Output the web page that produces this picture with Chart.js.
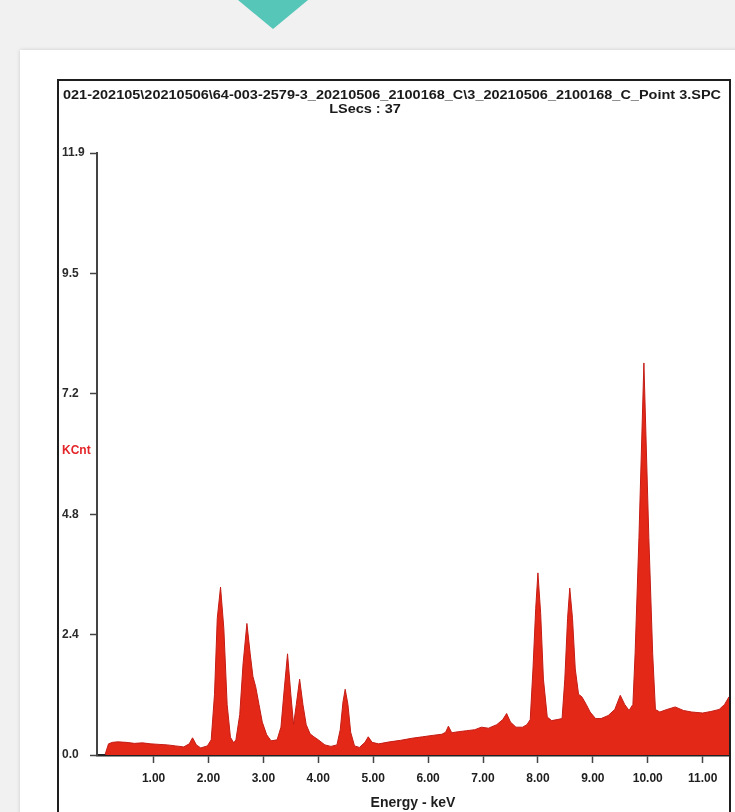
<!DOCTYPE html>
<html>
<head>
<meta charset="utf-8">
<script src="https://cdn.jsdelivr.net/npm/chart.js@4"></script>
<style>
  html, body { margin: 0; padding: 0; width: 735px; height: 812px; overflow: hidden; background: #f1f1f1; }
  #tri { position: absolute; left: 238px; top: 0; width: 0; height: 0;
         border-left: 35px solid transparent; border-right: 35px solid transparent;
         border-top: 29px solid #55c6b8; }
  #card { position: absolute; left: 20px; top: 50px; width: 730px; height: 800px; background: #fff;
          box-shadow: 0 0 4px rgba(0,0,0,0.15); }
  #frame { position: absolute; left: 57px; top: 79px; width: 670px; height: 760px;
           border: 2px solid #1e1e1e; background: #fff; }
  #c { position: absolute; left: 0; top: 0; }
</style>
</head>
<body>
<div id="tri"></div>
<div id="card"></div>
<div id="frame"><canvas id="c" width="670" height="731"></canvas></div>
<script>
// ---- data ----
const titleLines = ['021-202105\\20210506\\64-003-2579-3_20210506_2100168_C\\3_20210506_2100168_C_Point 3.SPC', 'LSecs : 37'];
const yAxisLabel = 'KCnt';
const xAxisLabel = 'Energy - keV';
const xTickValues = [1, 2, 3, 4, 5, 6, 7, 8, 9, 10, 11];
const yTickValues = [0, 2.38, 4.76, 7.14, 9.52, 11.9];
const yTickLabels = ['0.0', '2.4', '4.8', '7.2', '9.5', '11.9'];

const energyKeV = [
  0.12, 0.18, 0.25, 0.35, 0.5, 0.65, 0.8, 0.95, 1.1, 1.25, 1.4, 1.55, 1.65, 1.71, 1.78, 1.86, 1.98,
  2.05, 2.11, 2.16, 2.22, 2.28, 2.34, 2.4, 2.46,
  2.5, 2.57, 2.63, 2.7, 2.76, 2.81, 2.86, 2.92, 2.98, 3.06, 3.14,
  3.25, 3.32, 3.38, 3.44, 3.5, 3.55, 3.6, 3.66, 3.72, 3.78, 3.85, 3.92, 4.0, 4.12, 4.23,
  4.34, 4.4, 4.45, 4.49, 4.54, 4.59, 4.66, 4.75, 4.85, 4.91, 4.98, 5.1,
  5.3, 5.5, 5.7, 5.9, 6.1, 6.25, 6.32, 6.37, 6.43, 6.55, 6.7, 6.85, 6.97, 7.1, 7.25, 7.36, 7.43, 7.5, 7.6, 7.72, 7.8,
  7.86, 7.91, 7.96, 8.0, 8.05, 8.1, 8.17, 8.25, 8.35,
  8.44, 8.49, 8.54, 8.58, 8.63, 8.68, 8.74, 8.8, 8.88, 8.95, 9.05, 9.15, 9.28, 9.4, 9.5, 9.58, 9.66,
  9.73, 9.77, 9.84, 9.93, 10.02, 10.09, 10.14, 10.22, 10.35, 10.5, 10.65, 10.8, 11.0, 11.15, 11.3, 11.4, 11.48
];
const countsKCnt = [
  0.02, 0.22, 0.25, 0.26, 0.25, 0.23, 0.24, 0.22, 0.21, 0.2, 0.18, 0.16, 0.22, 0.34, 0.2, 0.14, 0.18,
  0.3, 1.2, 2.7, 3.32, 2.5, 1.0, 0.35, 0.24,
  0.3, 0.8, 1.8, 2.6, 2.0, 1.55, 1.35, 1.0, 0.65, 0.4, 0.28,
  0.3, 0.55, 1.3, 2.0, 1.2, 0.6, 1.0, 1.5, 1.0, 0.6, 0.42, 0.36, 0.3, 0.2, 0.17,
  0.2, 0.5, 1.05, 1.3, 1.0, 0.45, 0.18, 0.15, 0.25, 0.36, 0.25, 0.22,
  0.26, 0.29, 0.33, 0.36, 0.39, 0.41, 0.45, 0.57, 0.44, 0.46, 0.48, 0.5, 0.55, 0.53, 0.6, 0.7, 0.82, 0.65, 0.55, 0.55, 0.6,
  0.7, 1.7, 2.9, 3.6, 2.8, 1.5, 0.75, 0.68, 0.7,
  0.72, 1.5, 2.7, 3.3, 2.7, 1.7, 1.2, 1.15, 1.0, 0.85, 0.72, 0.72, 0.78, 0.9, 1.18, 1.0, 0.88,
  1.0, 2.0, 4.3, 7.75, 4.3, 2.0, 0.9, 0.85, 0.9, 0.95, 0.88, 0.85, 0.83, 0.86, 0.9, 1.0, 1.15
];

const spectrum = energyKeV.map((e, i) => ({ x: e, y: countsKCnt[i] }));

const textPlugin = {
  id: 'edsText',
  afterDraw(chart) {
    const ctx = chart.ctx;
    ctx.save();
    // two-line header, condensed horizontally to the frame width
    ctx.font = 'bold 12px "Liberation Sans", Arial, sans-serif';
    ctx.fillStyle = '#1a1a1a';
    ctx.textAlign = 'center';
    ctx.textBaseline = 'middle';
    const w = ctx.measureText(titleLines[0]).width;
    const sx = 658 / w;
    ctx.save();
    ctx.translate(333, 96 - 81);
    ctx.scale(sx, 1);
    ctx.fillText(titleLines[0], 0, 0);
    ctx.restore();
    ctx.save();
    ctx.translate(306, 110 - 81);
    ctx.scale(sx, 1);
    ctx.fillText(titleLines[1], 0, 0);
    ctx.restore();
    // y-axis caption
    ctx.font = 'bold 12px "Liberation Sans", Arial, sans-serif';
    ctx.fillStyle = '#e3262a';
    ctx.textAlign = 'left';
    ctx.fillText(yAxisLabel, 3, 451 - 81);
    ctx.restore();
  }
};

new Chart(document.getElementById('c'), {
  type: 'line',
  data: {
    datasets: [{
      data: spectrum,
      fill: 'origin',
      backgroundColor: 'rgb(228,40,24)',
      borderColor: 'rgb(196,28,20)',
      borderWidth: 1,
      pointRadius: 0,
      tension: 0
    }]
  },
  options: {
    responsive: false,
    animation: false,
    devicePixelRatio: 1,
    layout: { padding: { left: 3, right: 0, top: 72, bottom: 0 } },
    plugins: {
      legend: { display: false },
      tooltip: { enabled: false },
      title: { display: false }
    },
    scales: {
      x: {
        type: 'linear',
        min: -0.03,
        max: 11.48,
        afterBuildTicks: s => { s.ticks = xTickValues.map(v => ({ value: v })); },
        afterFit: s => { s.height = 57; },
        border: { display: true, color: '#222', width: 2.5 },
        grid: { display: true, drawOnChartArea: false, drawTicks: true, tickLength: 8, tickColor: '#444', tickWidth: 1.5 },
        ticks: {
          color: '#1e1e1e',
          padding: 8,
          maxRotation: 0,
          autoSkip: false,
          font: { family: '"Liberation Sans", Arial, sans-serif', size: 12, weight: 'bold' },
          callback: v => Number(v).toFixed(2)
        },
        title: {
          display: true,
          text: xAxisLabel,
          color: '#1e1e1e',
          font: { family: '"Liberation Sans", Arial, sans-serif', size: 14, weight: 'bold', lineHeight: 1.1 },
          padding: { top: 0, bottom: 1 }
        }
      },
      y: {
        type: 'linear',
        min: 0,
        max: 11.9,
        afterBuildTicks: s => { s.ticks = yTickValues.map(v => ({ value: v })); },
        afterFit: s => { s.width = 35; },
        border: { display: true, color: '#444', width: 2 },
        grid: { display: true, drawOnChartArea: false, drawTicks: true, tickLength: 7, tickColor: '#444', tickWidth: 1.5 },
        ticks: {
          color: '#2a2a2a',
          crossAlign: 'far',
          padding: 3,
          autoSkip: false,
          font: { family: '"Liberation Sans", Arial, sans-serif', size: 12, weight: 'bold' },
          callback: (v, i) => yTickLabels[i]
        }
      }
    }
  },
  plugins: [textPlugin]
});
</script>
</body>
</html>
